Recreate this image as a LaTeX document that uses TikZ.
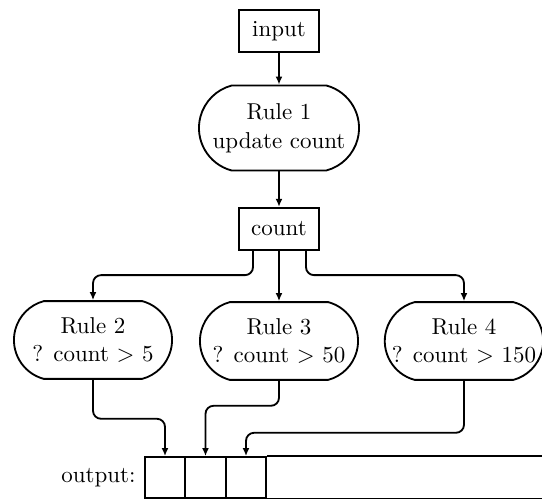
\documentclass[tikz,border=0pt]{standalone}
\usepackage{tikz}
\usetikzlibrary{arrows.meta, positioning, shapes.misc}

\begin{document}
\begin{tikzpicture}[x=0.0153cm, y=-0.0153cm,
      font=\fontsize{10}{12.6}\selectfont,
      reg/.style={draw, line width=0.8pt, inner sep=0pt,
                  minimum width=1.22cm, minimum height=0.65cm},
      rulebox/.style={draw, line width=0.8pt, rounded rectangle,
                  rounded rectangle arc length=150, align=center,
                  inner sep=0pt, minimum width=2.42cm, minimum height=1.19cm},
      slot/.style={draw, line width=0.8pt, inner sep=0pt,
                  minimum width=0.62cm, minimum height=0.627cm},
      arr/.style={-{Latex[length=3.5pt, width=3pt]}, line width=0.8pt,
                  rounded corners=3.5pt}]
      \useasboundingbox (0,0) rectangle (542,499);
      % Input and first rule
      \node[reg] (input) at (279,31) {input};
      \node[rulebox, minimum width=2.45cm, minimum height=1.3cm] (r1)
        at (279,128) {Rule 1\\update count};
      \node[reg] (count) at (279,229) {count};
      % Tests on count
      \node[rulebox] (r2) at (93,340) {Rule 2\\? count $>$ 5};
      \node[rulebox] (r3) at (279,341) {Rule 3\\? count $>$ 50};
      \node[rulebox] (r4) at (464,341) {Rule 4\\? count $>$ 150};
      % Output buffer
      \node[slot] (c1) at (165,477.5) {};
      \node[slot] (c2) at (205.5,477.5) {};
      \node[slot] (c3) at (246,477.5) {};
      \coordinate (bufend) at (542,477.5);
      \draw[line width=0.8pt] (c3.north east) -- (c3.north east -| bufend);
      \draw[line width=0.8pt] (c3.south east) -- (c3.south east -| bufend);
      \node[left=0.12cm of c1, inner sep=0pt] (outlbl) {output:};
      % Connections
      \draw[arr] (input.south) -- (r1.north);
      \draw[arr] (r1.south) -- (count.north);
      \draw[arr] ([shift={(-26,0)}]count.south) -- ++(0,24) -| (r2.north);
      \draw[arr] (count.south) -- (r3.north);
      \draw[arr] ([shift={(27,0)}]count.south) -- ++(0,24) -| (r4.north);
      \draw[arr] (r2.south) -- ++(0,39) -| (c1.north);
      \draw[arr] (r3.south) -- ++(0,25) -| (c2.north);
      \draw[arr] (r4.south) -- ++(0,52) -| (c3.north);
    \end{tikzpicture}
\end{document}
